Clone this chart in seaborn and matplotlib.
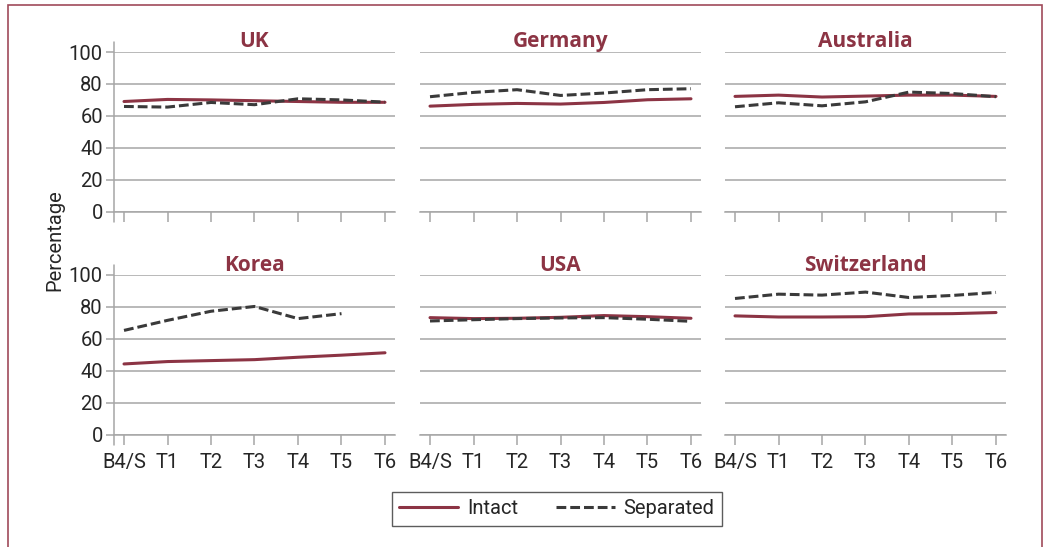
import pandas as pd
import seaborn as sns
import matplotlib.pyplot as plt
from matplotlib.patches import Rectangle
from matplotlib.lines import Line2D

# data
waves = ["B4/S", "T1", "T2", "T3", "T4", "T5", "T6"]
countries = ["UK", "Germany", "Australia", "Korea", "USA", "Switzerland"]

intact_uk = [69.0, 70.3, 70.0, 69.5, 69.0, 68.5, 68.5]
separated_uk = [65.9, 65.5, 68.4, 67.0, 70.7, 70.0, 68.6]
intact_germany = [66.1, 67.2, 67.8, 67.4, 68.4, 70.1, 70.7]
separated_germany = [72.0, 74.7, 76.4, 72.8, 74.3, 76.4, 77.0]
intact_australia = [72.2, 73.0, 71.8, 72.4, 73.0, 73.0, 72.2]
separated_australia = [65.7, 68.2, 66.3, 68.8, 74.9, 74.0, 72.0]
intact_korea = [44.3, 45.8, 46.4, 47.0, 48.5, 49.8, 51.3]
separated_korea = [65.3, 71.6, 77.3, 80.3, 72.7, 75.8, None]
intact_usa = [73.3, 72.7, 72.9, 73.5, 74.6, 73.9, 72.9]
separated_usa = [71.2, 72.0, 72.7, 73.1, 73.3, 72.3, 71.0]
intact_switzerland = [74.4, 73.7, 73.7, 73.9, 75.6, 75.8, 76.5]
separated_switzerland = [85.3, 88.0, 87.4, 89.3, 85.9, 87.2, 89.1]

intact = [intact_uk, intact_germany, intact_australia,
          intact_korea, intact_usa, intact_switzerland]
separated = [separated_uk, separated_germany, separated_australia,
             separated_korea, separated_usa, separated_switzerland]

rows = []
for c, ia, se in zip(countries, intact, separated):
    for i, w in enumerate(waves):
        rows.append({"Country": c, "Step": i, "Wave": w, "Group": "Intact", "Percentage": ia[i]})
        rows.append({"Country": c, "Step": i, "Wave": w, "Group": "Separated", "Percentage": se[i]})
df = pd.DataFrame(rows)

sns.set_theme(style="white")
plt.rcParams["font.family"] = ["Roboto", "DejaVu Sans"]

red = "#8C3444"
dark = "#3a3a3a"
grid = "#a6a6a6"
txt = "#262626"
fs = 14.5

W, H = 1044, 547
fig = plt.figure(figsize=(W / 100, H / 100), dpi=100)
fig.patch.set_facecolor("white")

col_left = [114, 420, 725]
col_w = 281
row_top = [52, 275]
row_h = 159.7

for k, country in enumerate(countries):
    r, c = divmod(k, 3)
    ax = fig.add_axes([col_left[c] / W, 1 - (row_top[r] + row_h) / H, col_w / W, row_h / H])
    sub = df[df["Country"] == country]
    sns.lineplot(data=sub, x="Step", y="Percentage", hue="Group", style="Group",
                 palette={"Intact": red, "Separated": dark},
                 dashes={"Intact": "", "Separated": (3.2, 1.3)},
                 linewidth=2.2, legend=False, ax=ax)
    ax.set_xlim(-0.23, 6.23)
    ax.set_ylim(0, 100)
    ax.set_yticks(range(0, 101, 20))
    ax.set_xticks(range(7))
    ax.set_xticklabels(waves if r == 1 else [])
    ax.set_xlabel("")
    ax.set_ylabel("")
    ax.grid(axis="y", color=grid, linewidth=1.1)
    ax.set_axisbelow(True)
    for s in ax.spines.values():
        s.set_visible(False)
    ax.spines["bottom"].set_visible(True)
    ax.spines["bottom"].set_color(grid)
    ax.spines["bottom"].set_linewidth(1.1)
    ax.tick_params(axis="x", direction="out", length=7, width=1.1, color=grid,
                   labelsize=fs, labelcolor=txt, pad=6, bottom=True)
    if c == 0:
        ax.tick_params(axis="y", direction="out", length=6, width=1.1, color=grid,
                       labelsize=fs, labelcolor=txt, pad=2, left=True)
        ax.plot([0, 0], [-6.5, 106.5], color=grid, linewidth=1.1, clip_on=False,
                transform=ax.get_yaxis_transform(), zorder=1)
    else:
        ax.tick_params(axis="y", left=False, labelleft=False)
    ax.set_title(country, color=red, fontsize=15, fontweight="bold",
                 family=["Open Sans", "DejaVu Sans"], pad=3)

fig.text(55 / W, 1 - 240 / H, "Percentage", rotation=90, ha="center", va="center",
         fontsize=fs, color=txt)

handles = [Line2D([], [], color=red, linewidth=2.2),
           Line2D([], [], color=dark, linewidth=2.2, dashes=(3.2, 1.3))]
leg = fig.legend(handles, ["Intact", "Separated"], loc="center",
                 bbox_to_anchor=(557 / W, 1 - 509 / H), ncol=2, frameon=True,
                 fancybox=False, fontsize=fs, handlelength=2.9, columnspacing=1.9,
                 handletextpad=0.45, borderpad=0.35, borderaxespad=0)
leg.get_frame().set_edgecolor("#333333")
leg.get_frame().set_linewidth(1.0)
for t in leg.get_texts():
    t.set_color(txt)

fig.patches.append(Rectangle((8 / W, -0.1), (1042 - 8) / W, 1 - 5 / H + 0.1,
                             transform=fig.transFigure, fill=False,
                             edgecolor="#a04a5a", linewidth=1.2))

fig.savefig("out.png", dpi=100)
